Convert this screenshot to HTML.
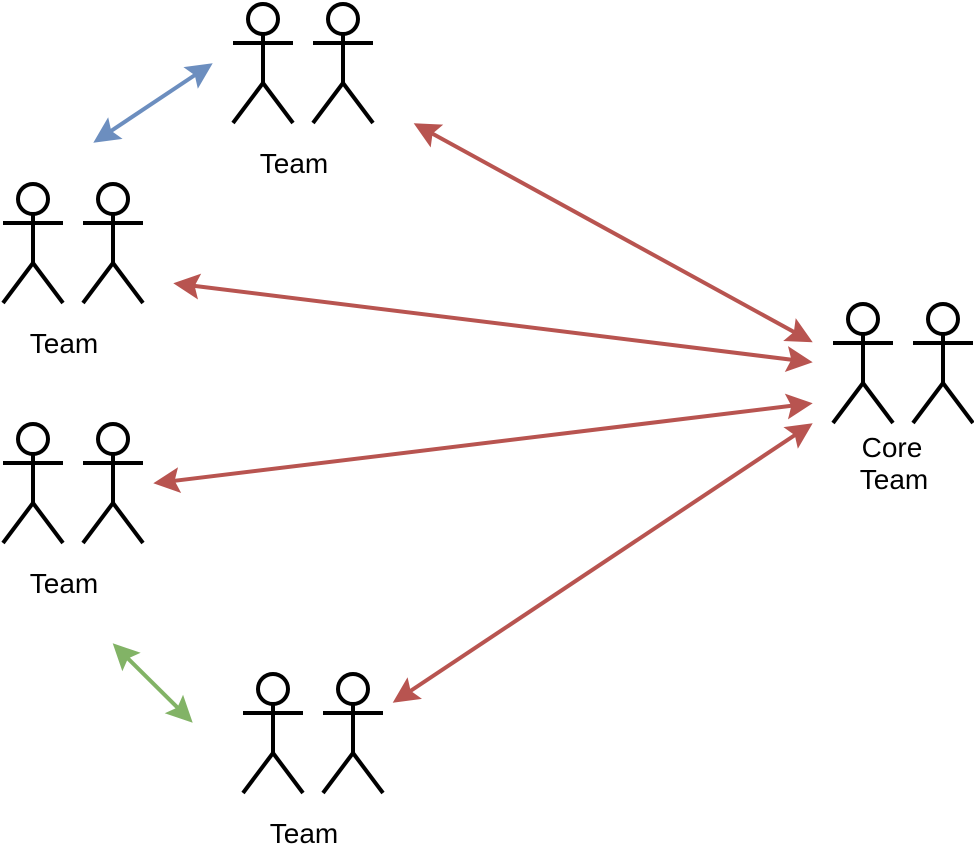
<!DOCTYPE html>
<html>
<head>
<meta charset="utf-8">
<title>Core Team diagram</title>
<style>
html,body{margin:0;padding:0;background:#fff;width:974px;height:854px;overflow:hidden}
svg{display:block}
text{font-family:"Liberation Sans",Arial,sans-serif;font-size:28px;fill:#000;text-anchor:middle}
</style>
</head>
<body>
<svg width="974" height="854" viewBox="0 0 974 854" xmlns="http://www.w3.org/2000/svg">
<defs>
<path id="h" d="M0,0 L-26.5,-13 L-21.5,0 L-26.5,13 Z"/>
<g id="actor" fill="none" stroke="#000" stroke-width="4">
<circle cx="30" cy="16" r="15"/>
<path d="M30,31 V80 M0,40 H60 M0,120 L30,80 L60,120"/>
</g>
</defs>

<g fill="none" stroke-width="4">
<line x1="105" y1="135" x2="201" y2="71" stroke="#6c8ebf"/>
<line x1="426" y1="130.1" x2="800.4" y2="335.5" stroke="#b85450"/>
<line x1="187.2" y1="285" x2="798.8" y2="360.6" stroke="#b85450"/>
<line x1="167.2" y1="481.7" x2="798.8" y2="404.9" stroke="#b85450"/>
<line x1="404.4" y1="695" x2="801" y2="431" stroke="#b85450"/>
<line x1="122.6" y1="653.2" x2="182.8" y2="712.8" stroke="#82b366"/>
</g>

<g fill="#6c8ebf">
<use href="#h" transform="translate(212.7,63.3) rotate(-33.6)"/>
<use href="#h" transform="translate(93.3,142.7) rotate(146.4)"/>
</g>
<g fill="#b85450">
<use href="#h" transform="translate(812.7,342.3) rotate(28.76)"/>
<use href="#h" transform="translate(413.7,123.3) rotate(208.76)"/>
<use href="#h" transform="translate(812.7,362.3) rotate(7.04)"/>
<use href="#h" transform="translate(173.3,283.3) rotate(187.04)"/>
<use href="#h" transform="translate(812.7,403.3) rotate(-6.92)"/>
<use href="#h" transform="translate(153.3,483.3) rotate(173.08)"/>
<use href="#h" transform="translate(812.7,423.3) rotate(-33.64)"/>
<use href="#h" transform="translate(392.7,702.7) rotate(146.36)"/>
</g>
<g fill="#82b366">
<use href="#h" transform="translate(192.7,722.7) rotate(44.8)"/>
<use href="#h" transform="translate(112.7,643.3) rotate(224.8)"/>
</g>

<use href="#actor" x="233" y="3"/><use href="#actor" x="313" y="3"/>
<use href="#actor" x="3" y="183"/><use href="#actor" x="83" y="183"/>
<use href="#actor" x="3" y="423"/><use href="#actor" x="83" y="423"/>
<use href="#actor" x="243" y="673"/><use href="#actor" x="323" y="673"/>
<use href="#actor" x="833" y="303"/><use href="#actor" x="913" y="303"/>

<text x="294" y="173">Team</text>
<text x="64" y="353">Team</text>
<text x="64" y="593">Team</text>
<text x="304" y="843">Team</text>
<text x="892" y="457">Core</text>
<text x="894" y="489">Team</text>
</svg>
</body>
</html>
